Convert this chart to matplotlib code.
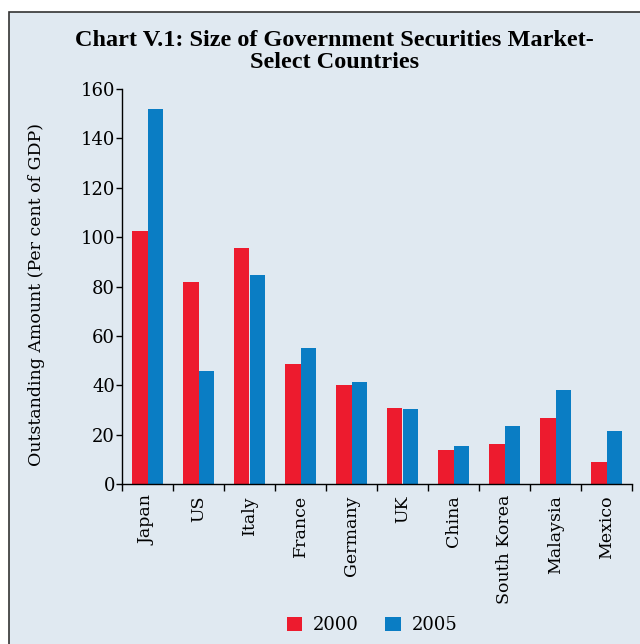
import numpy as np
import matplotlib.pyplot as plt
from matplotlib.patches import Rectangle

# ─── Data ─────────────────────────────────────────────────────────────────────
countries = ['Japan', 'US', 'Italy', 'France', 'Germany', 'UK', 'China',
             'South Korea', 'Malaysia', 'Mexico']
vals_2000 = [102.4, 81.8, 95.5, 48.6, 40.0, 30.8, 13.8, 16.2, 26.7, 8.9]
vals_2005 = [151.8, 45.7, 84.6, 55.0, 41.3, 30.4, 15.4, 23.5, 38.0, 21.5]
series_labels = ['2000', '2005']

BG = '#e0e9f1'
RED = '#ed1b2e'
BLUE = '#0a7dc4'

plt.rcParams['font.family'] = ['DejaVu Serif']

fig = plt.figure(figsize=(6.4, 6.44), dpi=100)
fig.patch.set_facecolor('white')
# framed panel behind everything
fig.patches.append(Rectangle((9 / 640, -0.01), 1.0, 1 - 12 / 644 + 0.01,
                             transform=fig.transFigure, facecolor=BG,
                             edgecolor='#333333', linewidth=1.2, zorder=-10))

ax = fig.add_axes([122 / 640, 1 - 484 / 644, 510 / 640, 395 / 644])
ax.set_facecolor('none')
ax.set_zorder(1)

x = np.arange(len(countries))
w = 0.3
b1 = ax.bar(x - w / 2, vals_2000, w, color=RED, label=series_labels[0])
b2 = ax.bar(x + w / 2, vals_2005, w, color=BLUE, label=series_labels[1])

ax.set_xlim(-0.5, len(countries) - 0.5)
ax.set_ylim(0, 160)
ax.set_yticks(np.arange(0, 161, 20))
ax.tick_params(axis='y', labelsize=13, length=4, width=1, pad=1)

ax.set_xticks(x)
ax.set_xticklabels(countries, rotation=90, fontsize=12.5)
ax.tick_params(axis='x', length=0, pad=8)
ax.set_xticks(np.arange(-0.5, len(countries), 1), minor=True)
ax.tick_params(axis='x', which='minor', length=5, width=1)

for s in ['top', 'right']:
    ax.spines[s].set_visible(False)
ax.spines['left'].set_linewidth(1)
ax.spines['bottom'].set_linewidth(1)

ax.set_ylabel('Outstanding Amount (Per cent of GDP)', fontsize=12.5)
ax.yaxis.set_label_coords(-0.15, 0.48)

fig.text(0.522, 1 - 40 / 644, 'Chart V.1: Size of Government Securities Market-',
         ha='center', va='center', fontsize=17.5, fontweight='bold',
         family='Liberation Serif')
fig.text(0.522, 1 - 63 / 644, 'Select Countries',
         ha='center', va='center', fontsize=17.5, fontweight='bold',
         family='Liberation Serif')

fig.legend(handles=[b1, b2], loc='center', bbox_to_anchor=(372 / 640, 1 - 625 / 644),
           ncol=2, frameon=False, fontsize=13, handlelength=0.85, handleheight=0.85,
           columnspacing=1.45, handletextpad=0.6)

fig.savefig('out.png', dpi=100, facecolor='white')
